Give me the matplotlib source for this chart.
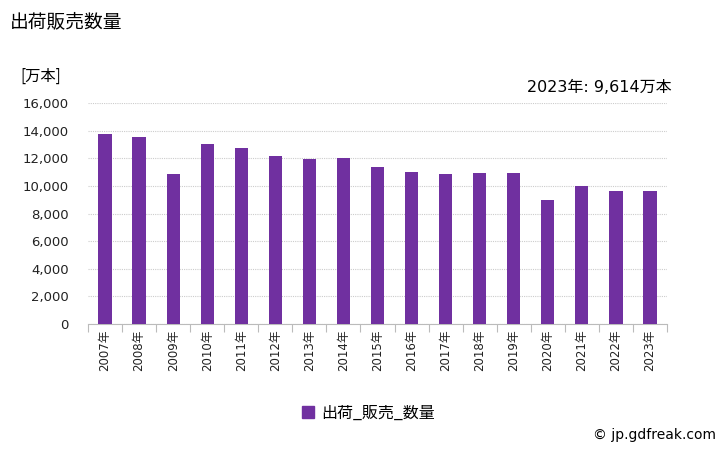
import matplotlib
matplotlib.use('Agg')
import matplotlib.pyplot as plt
from matplotlib.patches import Patch

plt.rcParams['font.family'] = ['Noto Sans CJK JP', 'DejaVu Sans']
num_font = ['DejaVu Sans', 'Noto Sans CJK JP']

# data (万本)
years = ['2007年', '2008年', '2009年', '2010年', '2011年', '2012年', '2013年', '2014年',
         '2015年', '2016年', '2017年', '2018年', '2019年', '2020年', '2021年', '2022年', '2023年']
values = [13760, 13550, 10870, 13040, 12750, 12170, 11960, 12020,
          11380, 11010, 10870, 10940, 10940, 8990, 10000, 9640, 9614]
yticks = [0, 2000, 4000, 6000, 8000, 10000, 12000, 14000, 16000]
bar_color = '#7030A0'

fig = plt.figure(figsize=(7.28, 4.5), dpi=100)
ax = fig.add_axes([88/728, 1 - 324/450, (667-88)/728, (324-103)/450])

x = list(range(len(years)))
ax.bar(x, values, width=0.39, color=bar_color, zorder=3)

ax.set_xlim(-0.5, len(years) - 0.5)
ax.set_ylim(0, 16000)
ax.set_yticks(yticks)
ax.set_yticklabels([f'{v:,}' for v in yticks], fontsize=9.5, color='#222222', family=num_font)
ax.grid(axis='y', color='#cccccc', linestyle=(0, (1, 1)), linewidth=0.8, zorder=0)

for s in ['left', 'right', 'top']:
    ax.spines[s].set_visible(False)
ax.spines['bottom'].set_color('#bbbbbb')

ax.tick_params(axis='y', length=0, pad=14)
# ticks at category boundaries, labels at centers
ax.set_xticks([i - 0.5 for i in range(len(years) + 1)])
ax.set_xticklabels([])
ax.tick_params(axis='x', which='major', length=6, color='#bbbbbb')
ax.set_xticks(x, minor=True)
ax.set_xticklabels(years, minor=True, rotation=90, fontsize=8.5, color='#222222', family=num_font)
ax.tick_params(axis='x', which='minor', length=0, pad=4)

fig.text(10/728, 1 - 22/450, '出荷販売数量', fontsize=13.5, va='center', ha='left')
fig.text(20/728, 1 - 76/450, '[万本]', fontsize=11, va='center', ha='left')
fig.text(672/728, 1 - 87/450, '2023年: 9,614万本', fontsize=11.5, va='center', ha='right',
         family=num_font)

fig.legend(handles=[Patch(color=bar_color, label='出荷_販売_数量')],
           loc='center', bbox_to_anchor=(368/728, 1 - 413/450), frameon=False,
           fontsize=11.5, handlelength=0.8, handleheight=0.8, handletextpad=0.4)
fig.text(716/728, 1 - 435/450, '© jp.gdfreak.com', fontsize=10, va='center', ha='right',
         family=num_font)

fig.savefig('out.png', dpi=100)
